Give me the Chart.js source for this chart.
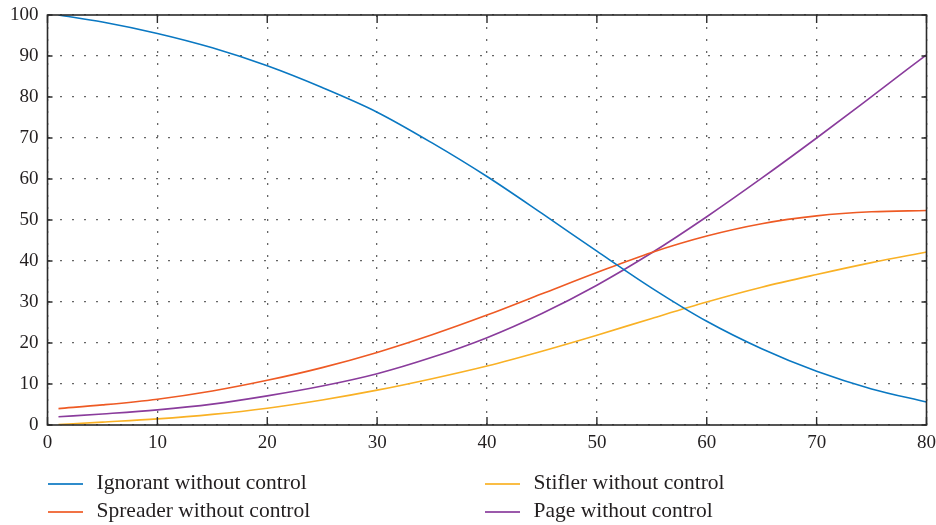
<!DOCTYPE html>
<html>
<head>
<meta charset="utf-8">
<script src="https://cdn.jsdelivr.net/npm/chart.js@4/dist/chart.umd.min.js"></script>
<style>
  html, body { margin:0; padding:0; background:#fff; }
  #wrap { position:relative; width:936px; height:525px; }
  #c { position:absolute; left:0; top:0; }
  .lg { position:absolute; font-family:'Liberation Serif', 'DejaVu Serif', serif; font-size:21.5px; color:#231f20; white-space:nowrap; line-height:1; }
  .lgline { position:absolute; height:2px; width:35px; }
</style>
</head>
<body>
<div id="wrap"><canvas id="c" width="936" height="525"></canvas><div id="legend"></div></div>
<script>
const xValues = [1,5,10,15,20,25,30,35,40,45,50,55,60,65,70,75,80];
const ignorant = [100,98.3,95.5,92,87.6,82.3,76.3,68.8,60.6,51.6,42.4,33.4,25.3,18.6,13.1,8.8,5.6];
const spreader = [4,4.9,6.3,8.3,10.9,14,17.7,22,26.8,32,37.2,42.1,46.1,49.1,51.0,52.0,52.3];
const stifler  = [0.1,0.7,1.5,2.6,4.1,6.1,8.5,11.3,14.4,18,21.9,26,30,33.6,36.7,39.6,42.2];
const page     = [2,2.7,3.7,5.1,7.1,9.5,12.5,16.5,21.3,27.2,34.1,42,50.8,60.2,70,80.1,90.3];
const seriesNames = ['Ignorant without control','Spreader without control','Stifler without control','Page without control'];
const seriesColors = ['#0a78c2','#ee5a24','#f9b125','#8a3c9c'];
const xTicks = [0,10,20,30,40,50,60,70,80];
const yTicks = [0,10,20,30,40,50,60,70,80,90,100];

const allSeries = [ignorant, spreader, stifler, page];
const datasets = allSeries.map((s,i)=>({
  label: seriesNames[i],
  data: s.map((v,j)=>({x:xValues[j], y:v})),
  borderColor: seriesColors[i],
  backgroundColor: seriesColors[i],
  borderWidth: 1.6,
  pointRadius: 0,
  cubicInterpolationMode: 'monotone',
  fill: false
}));

const frame = {
  id:'frame',
  afterDraw(chart){
    const {ctx, chartArea:a, scales:{x,y}} = chart;
    ctx.save();
    ctx.strokeStyle = '#2b2b2b';
    ctx.lineWidth = 1.6;
    ctx.strokeRect(a.left, a.top, a.right-a.left, a.bottom-a.top);
    ctx.lineWidth = 1.4;
    ctx.beginPath();
    xTicks.forEach(v=>{
      const px = x.getPixelForValue(v);
      ctx.moveTo(px, a.bottom); ctx.lineTo(px, a.bottom-8);
      ctx.moveTo(px, a.top); ctx.lineTo(px, a.top+8);
    });
    yTicks.forEach(v=>{
      const py = y.getPixelForValue(v);
      ctx.moveTo(a.left, py); ctx.lineTo(a.left+5, py);
      ctx.moveTo(a.right, py); ctx.lineTo(a.right-5, py);
    });
    ctx.stroke();
    ctx.restore();
  }
};

const tickFont = {family:"'Liberation Serif', 'DejaVu Serif', serif", size:19};
const chart = new Chart(document.getElementById('c'), {
  type:'line',
  data:{datasets},
  options:{
    responsive:false,
    animation:false,
    layout:{padding:{top:15, right:9.5, left:0, bottom:0}},
    plugins:{legend:{display:false}, tooltip:{enabled:false}},
    scales:{
      x:{
        type:'linear', min:0, max:80,
        afterBuildTicks(s){ s.ticks = xTicks.map(v=>({value:v})); },
        afterFit(s){ s.height = 100; s.paddingLeft = 0; s.paddingRight = 0; },
        ticks:{font:tickFont, color:'#231f20', padding:7, maxRotation:0},
        grid:{color:'#666', lineWidth:1.3, drawTicks:false},
        border:{display:false, dash:[2,10]}
      },
      y:{
        type:'linear', min:0, max:100,
        afterBuildTicks(s){ s.ticks = yTicks.map(v=>({value:v})); },
        afterFit(s){ s.width = 47.5; s.paddingTop = 0; s.paddingBottom = 0; },
        ticks:{font:tickFont, color:'#231f20', padding:9},
        grid:{color:'#666', lineWidth:1.3, drawTicks:false},
        border:{display:false, dash:[2,10]}
      }
    }
  },
  plugins:[frame]
});

// HTML legend, two columns (column-major order)
const legend = document.getElementById('legend');
const colX = [48, 485];
const rowY = [483.5, 511.5];
chart.data.datasets.forEach((ds,i)=>{
  const col = Math.floor(i/2), row = i%2;
  const line = document.createElement('div');
  line.className = 'lgline';
  line.style.left = colX[col]+'px';
  line.style.top = (rowY[row]-1)+'px';
  line.style.background = ds.borderColor;
  line.style.opacity = '0.85';
  legend.appendChild(line);
  const t = document.createElement('div');
  t.className = 'lg';
  t.textContent = ds.label;
  t.style.left = (colX[col]+48.5)+'px';
  t.style.top = (rowY[row]-12)+'px';
  legend.appendChild(t);
});
</script>
</body>
</html>
